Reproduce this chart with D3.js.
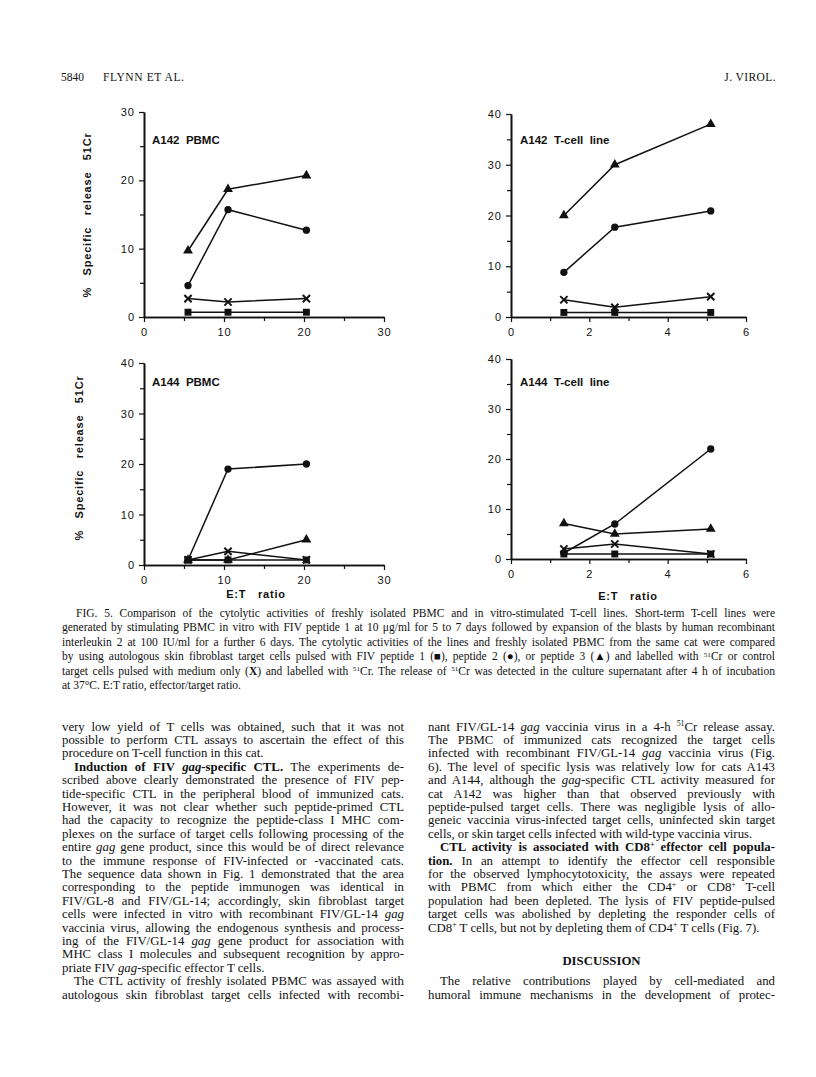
<!DOCTYPE html>
<html>
<head>
<meta charset="utf-8">
<script src="https://cdn.jsdelivr.net/npm/d3@7"></script>
<style>
  body { margin: 0; background: #fff; }
  svg { display: block; }
</style>
</head>
<body>
<svg id="page" width="816" height="1077"></svg>
<script>
// E:T ratios
const etPBMC = [5.5, 10.5, 20.3];
const etLine = [1.35, 2.65, 5.1];

// % specific release, per panel: peptide 1 (square), peptide 2 (circle), peptide 3 (triangle), control (X)
const a142PBMC = { p1: [0.7, 0.7, 0.7], p2: [4.6, 15.7, 12.7], p3: [9.7, 18.7, 20.7], ctrl: [2.7, 2.2, 2.7] };
const a142Line = { p1: [0.9, 0.9, 0.9], p2: [8.8, 17.7, 20.9], p3: [20, 30, 38], ctrl: [3.4, 1.9, 4.0] };
const a144PBMC = { p1: [1, 1, 1], p2: [1, 19, 20], p3: [1, 1, 5], ctrl: [1, 2.7, 1] };
const a144Line = { p1: [1, 1, 1], p2: [1.2, 7, 22], p3: [7.1, 5, 6], ctrl: [2, 3, 1] };

const xTicksPBMC = [0, 10, 20, 30];
const xTicksLine = [0, 2, 4, 6];

const captionLines = [
  "FIG. 5. Comparison of the cytolytic activities of freshly isolated PBMC and in vitro-stimulated T-cell lines. Short-term T-cell lines were",
  "generated by stimulating PBMC in vitro with FIV peptide 1 at 10 μg/ml for 5 to 7 days followed by expansion of the blasts by human recombinant",
  "interleukin 2 at 100 IU/ml for a further 6 days. The cytolytic activities of the lines and freshly isolated PBMC from the same cat were compared",
  "by using autologous skin fibroblast target cells pulsed with FIV peptide 1 (■), peptide 2 (●), or peptide 3 (▲) and labelled with ^51^Cr or control",
  "target cells pulsed with medium only (#X#) and labelled with ^51^Cr. The release of ^51^Cr was detected in the culture supernatant after 4 h of incubation",
  "at 37°C. E:T ratio, effector/target ratio."
];

const leftLines = [
  "very low yield of T cells was obtained, such that it was not",
  "possible to perform CTL assays to ascertain the effect of this",
  "procedure on T-cell function in this cat.",
  "#Induction of FIV _gag_-specific CTL.# The experiments de-",
  "scribed above clearly demonstrated the presence of FIV pep-",
  "tide-specific CTL in the peripheral blood of immunized cats.",
  "However, it was not clear whether such peptide-primed CTL",
  "had the capacity to recognize the peptide-class I MHC com-",
  "plexes on the surface of target cells following processing of the",
  "entire _gag_ gene product, since this would be of direct relevance",
  "to the immune response of FIV-infected or -vaccinated cats.",
  "The sequence data shown in Fig. 1 demonstrated that the area",
  "corresponding to the peptide immunogen was identical in",
  "FIV/GL-8 and FIV/GL-14; accordingly, skin fibroblast target",
  "cells were infected in vitro with recombinant FIV/GL-14 _gag_",
  "vaccinia virus, allowing the endogenous synthesis and process-",
  "ing of the FIV/GL-14 _gag_ gene product for association with",
  "MHC class I molecules and subsequent recognition by appro-",
  "priate FIV _gag_-specific effector T cells.",
  "The CTL activity of freshly isolated PBMC was assayed with",
  "autologous skin fibroblast target cells infected with recombi-"
];
const leftLast = [2, 18];
const leftIndent = [3, 19];

const rightLines = [
  "nant FIV/GL-14 _gag_ vaccinia virus in a 4-h ^51^Cr release assay.",
  "The PBMC of immunized cats recognized the target cells",
  "infected with recombinant FIV/GL-14 _gag_ vaccinia virus (Fig.",
  "6). The level of specific lysis was relatively low for cats A143",
  "and A144, although the _gag_-specific CTL activity measured for",
  "cat A142 was higher than that observed previously with",
  "peptide-pulsed target cells. There was negligible lysis of allo-",
  "geneic vaccinia virus-infected target cells, uninfected skin target",
  "cells, or skin target cells infected with wild-type vaccinia virus.",
  "#CTL activity is associated with CD8^+^ effector cell popula-#",
  "#tion.# In an attempt to identify the effector cell responsible",
  "for the observed lymphocytotoxicity, the assays were repeated",
  "with PBMC from which either the CD4^+^ or CD8^+^ T-cell",
  "population had been depleted. The lysis of FIV peptide-pulsed",
  "target cells was abolished by depleting the responder cells of",
  "CD8^+^ T cells, but not by depleting them of CD4^+^ T cells (Fig. 7)."
];
const rightLast = [8, 15];
const rightIndent = [9];
const discussionLines = [
  "The relative contributions played by cell-mediated and",
  "humoral immune mechanisms in the development of protec-"
];

const svg = d3.select("#page");
const serif = "'Liberation Serif', 'Times New Roman', serif";
const sans = "'Liberation Sans', Arial, sans-serif";
const ink = "#111";

// header
svg.append("text").attr("x", 61).attr("y", 81).attr("font-family", serif).attr("font-size", 11.5).attr("fill", ink).text("5840");
svg.append("text").attr("x", 103).attr("y", 81).attr("font-family", serif).attr("font-size", 11.5).attr("fill", ink).attr("letter-spacing", 0.6).text("FLYNN ET AL.");
svg.append("text").attr("x", 776).attr("y", 81).attr("text-anchor", "end").attr("font-family", serif).attr("font-size", 11.5).attr("fill", ink).attr("letter-spacing", 0.4).text("J. VIROL.");

// rich text line: _italic_, #bold#, ^sup^, justified to width when given
function richLine(x, y, str, size, width) {
  const t = svg.append("text").attr("x", x).attr("y", y)
    .attr("font-family", serif).attr("font-size", size).attr("fill", ink)
    .attr("xml:space", "preserve");
  let bold = false, italic = false, sup = false, pendingDy = 0;
  str.split(/([_#^])/).forEach(tok => {
    if (tok === "_") { italic = !italic; return; }
    if (tok === "#") { bold = !bold; return; }
    if (tok === "^") {
      sup = !sup;
      pendingDy += sup ? -size * 0.32 : size * 0.32;
      return;
    }
    if (!tok) return;
    const s = t.append("tspan").text(tok);
    if (bold) s.attr("font-weight", "bold");
    if (italic) s.attr("font-style", "italic");
    if (sup) s.attr("font-size", size * 0.62);
    if (pendingDy) { s.attr("dy", pendingDy); pendingDy = 0; }
  });
  if (width) {
    const natural = t.node().getComputedTextLength();
    const spaces = (str.match(/ /g) || []).length;
    if (spaces) t.attr("word-spacing", (width - natural) / spaces);
  }
  return t;
}

// caption
const capLeft = 62, capRight = 775, capTop = 617, capStep = 14.4, capSize = 11.5;
captionLines.forEach((ln, i) => {
  const indent = i === 0 ? 14 : 0;
  const last = i === captionLines.length - 1;
  richLine(capLeft + indent, capTop + i * capStep, ln, capSize, last ? null : capRight - capLeft - indent);
});

// body columns
const bodyTop = 730.5, bodyStep = 13.4, bodySize = 12.8;
const colL = [62, 404], colR = [428, 775];
leftLines.forEach((ln, i) => {
  const ind = leftIndent.includes(i) ? 12 : 0;
  const last = leftLast.includes(i);
  richLine(colL[0] + ind, bodyTop + i * bodyStep, ln, bodySize, last ? null : colL[1] - colL[0] - ind);
});
rightLines.forEach((ln, i) => {
  const ind = rightIndent.includes(i) ? 12 : 0;
  const last = rightLast.includes(i);
  richLine(colR[0] + ind, bodyTop + i * bodyStep, ln, bodySize, last ? null : colR[1] - colR[0] - ind);
});
svg.append("text").attr("x", (colR[0] + colR[1]) / 2).attr("y", 964.5)
  .attr("text-anchor", "middle").attr("font-family", serif).attr("font-size", 12.8)
  .attr("font-weight", "bold").attr("fill", ink).text("DISCUSSION");
discussionLines.forEach((ln, i) => {
  const ind = i === 0 ? 12 : 0;
  richLine(colR[0] + ind, bodyTop + (19 + i) * bodyStep, ln, bodySize, colR[1] - colR[0] - ind);
});

// panels
const panels = [
  { title: "A142  PBMC", data: a142PBMC, et: etPBMC, xd: [0, 30], xr: [144, 384], yd: [0, 30], yr: [317, 112],
    xMajor: xTicksPBMC, xMinor: [5, 15, 25], yMajor: [0, 10, 20, 30], yMinor: [5, 15, 25], tx: 152, ty: 144, ylab: [91, 215] },
  { title: "A142  T-cell  line", data: a142Line, et: etLine, xd: [0, 6], xr: [511, 746], yd: [0, 40], yr: [317, 114],
    xMajor: xTicksLine, xMinor: [1, 3, 5], yMajor: [0, 10, 20, 30, 40], yMinor: [5, 15, 25, 35], tx: 520, ty: 144 },
  { title: "A144  PBMC", data: a144PBMC, et: etPBMC, xd: [0, 30], xr: [144, 384], yd: [0, 40], yr: [565, 363],
    xMajor: xTicksPBMC, xMinor: [5, 15, 25], yMajor: [0, 10, 20, 30, 40], yMinor: [5, 15, 25, 35], tx: 152, ty: 386, ylab: [83, 458], xlab: [256, 598] },
  { title: "A144  T-cell  line", data: a144Line, et: etLine, xd: [0, 6], xr: [511, 746], yd: [0, 40], yr: [559, 359],
    xMajor: xTicksLine, xMinor: [1, 3, 5], yMajor: [0, 10, 20, 30, 40], yMinor: [5, 15, 25, 35], tx: 520, ty: 386, xlab: [628, 600] }
];

const symbols = {
  p1: d3.symbol().type(d3.symbolSquare).size(48),
  p2: d3.symbol().type(d3.symbolCircle).size(42),
  p3: d3.symbol().type(d3.symbolTriangle).size(42),
  ctrl: d3.symbol().type(d3.symbolX).size(36)
};

panels.forEach(p => {
  const x = d3.scaleLinear().domain(p.xd).range(p.xr);
  const y = d3.scaleLinear().domain(p.yd).range(p.yr);
  const g = svg.append("g");

  const styleAxis = sel => {
    sel.select(".domain").attr("stroke", ink).attr("stroke-width", 1.6);
    sel.selectAll(".tick line").attr("stroke", ink).attr("stroke-width", 1.2);
    sel.selectAll(".tick text").attr("fill", ink).attr("font-family", sans).attr("font-size", 11).attr("letter-spacing", 1);
  };

  g.append("g").attr("transform", `translate(0,${p.yr[0]})`)
    .call(d3.axisBottom(x).tickValues(p.xMinor).tickSize(4).tickFormat("").tickSizeOuter(0)).call(styleAxis);
  g.append("g").attr("transform", `translate(0,${p.yr[0]})`)
    .call(d3.axisBottom(x).tickValues(p.xMajor).tickFormat(d3.format("d")).tickSize(5).tickPadding(6).tickSizeOuter(0)).call(styleAxis);
  g.append("g").attr("transform", `translate(${p.xr[0]},0)`)
    .call(d3.axisLeft(y).tickValues(p.yMinor).tickSize(4).tickFormat("").tickSizeOuter(0)).call(styleAxis);
  g.append("g").attr("transform", `translate(${p.xr[0]},0)`)
    .call(d3.axisLeft(y).tickValues(p.yMajor).tickFormat(d3.format("d")).tickSize(5).tickPadding(4).tickSizeOuter(0)).call(styleAxis);

  const line = d3.line().x((d, i) => x(p.et[i])).y(d => y(d));
  ["ctrl", "p3", "p2", "p1"].forEach(k => {
    g.append("path").datum(p.data[k]).attr("d", line)
      .attr("fill", "none").attr("stroke", ink).attr("stroke-width", 1.5);
    g.selectAll(null).data(p.data[k]).enter().append("path")
      .attr("transform", (d, i) => `translate(${x(p.et[i])},${y(d)})`)
      .attr("d", symbols[k])
      .attr("fill", k === "ctrl" ? "none" : ink)
      .attr("stroke", ink).attr("stroke-width", k === "ctrl" ? 2 : 0);
  });

  g.append("text").attr("x", p.tx).attr("y", p.ty)
    .attr("font-family", sans).attr("font-size", 11.5).attr("font-weight", "bold")
    .attr("fill", ink).attr("xml:space", "preserve").text(p.title);

  if (p.ylab) {
    g.append("text").attr("transform", `translate(${p.ylab[0]},${p.ylab[1]}) rotate(-90)`)
      .attr("text-anchor", "middle").attr("font-family", sans).attr("font-size", 11).attr("font-weight", "bold")
      .attr("fill", ink).attr("letter-spacing", 0.8).attr("xml:space", "preserve")
      .text("%   Specific   release   51Cr");
  }
  if (p.xlab) {
    g.append("text").attr("x", p.xlab[0]).attr("y", p.xlab[1])
      .attr("text-anchor", "middle").attr("font-family", sans).attr("font-size", 11).attr("font-weight", "bold")
      .attr("fill", ink).attr("letter-spacing", 0.8).attr("xml:space", "preserve").text("E:T   ratio");
  }
});
</script>
</body>
</html>
